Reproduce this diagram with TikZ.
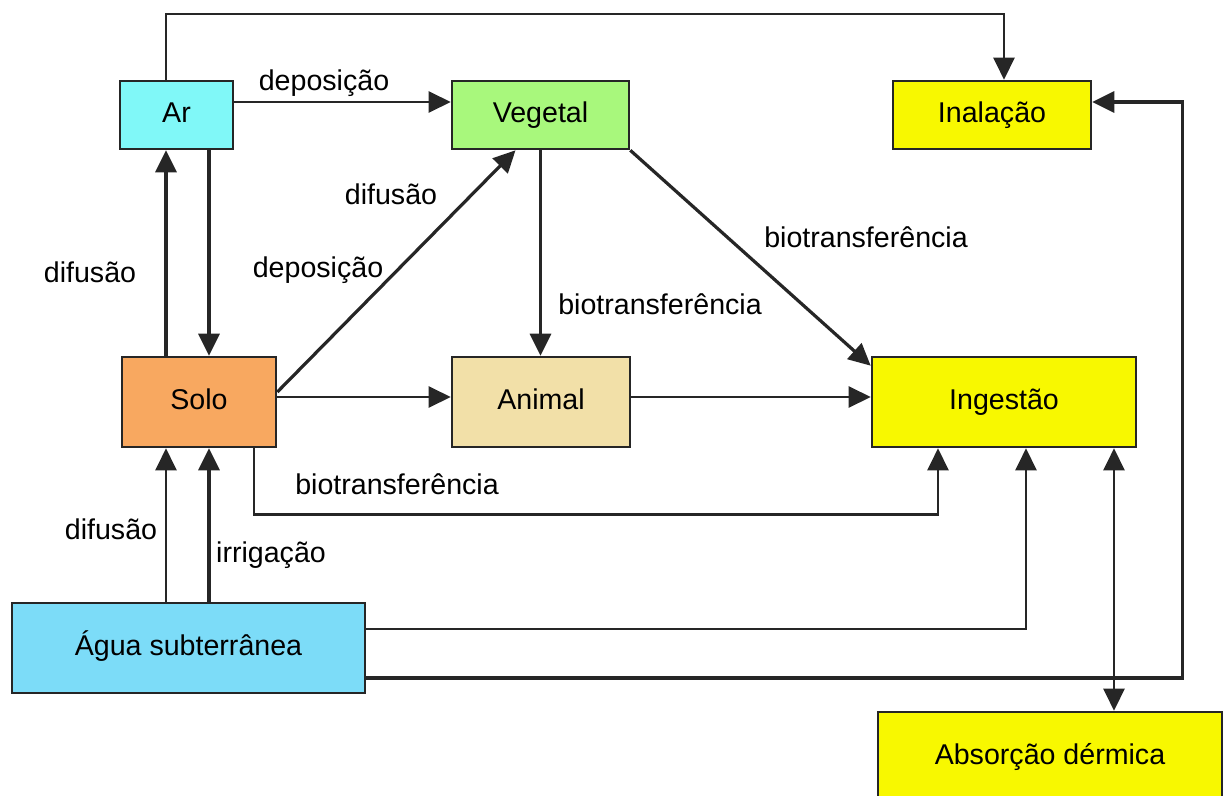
\documentclass[tikz,border=0pt]{standalone}
\usepackage{fontspec}
\setmainfont{Liberation Sans}
\usepackage{tikz}
\usetikzlibrary{arrows.meta,positioning}

\definecolor{arcol}{HTML}{80F8F8}
\definecolor{vegcol}{HTML}{A8F87C}
\definecolor{yelcol}{HTML}{F8F800}
\definecolor{solocol}{HTML}{F8A860}
\definecolor{anicol}{HTML}{F2E0A8}
\definecolor{aguacol}{HTML}{7CDCF8}
\definecolor{linecol}{HTML}{262626}

\begin{document}
\begin{tikzpicture}[
  font=\fontsize{28.6bp}{33bp}\selectfont,
  box/.style={draw=linecol,line width=2.6bp,inner sep=0pt,minimum height=68bp,text height=21bp,text depth=6bp},
  lbl/.style={inner sep=0pt,text height=21bp,text depth=6bp},
  arr/.style={draw=linecol,line width=3.2bp,-{Triangle[length=22bp,width=21bp]}},
  thinarr/.style={draw=linecol,line width=2.4bp,-{Triangle[length=22bp,width=21bp]}},
  dblarr/.style={draw=linecol,line width=2.4bp,{Triangle[length=22bp,width=21bp]}-{Triangle[length=22bp,width=21bp]}}
]
\useasboundingbox[fill=white] (0bp,0bp) rectangle (1230bp,-796bp);

\node (Ar) at (176.5bp,-115bp)[box,fill=arcol,minimum width=113bp] {Ar};
\node (Vegetal) at (540.5bp,-115bp)[box,fill=vegcol,minimum width=177bp] {Vegetal};
\node (Inala) at (992bp,-115bp)[box,fill=yelcol,minimum width=198bp] {Inalação};
\node (Solo) at (199bp,-402bp)[box,fill=solocol,minimum width=154bp,minimum height=90bp] {Solo};
\node (Animal) at (541bp,-402bp)[box,fill=anicol,minimum width=178bp,minimum height=90bp] {Animal};
\node (Ingest) at (1004bp,-402bp)[box,fill=yelcol,minimum width=264bp,minimum height=90bp] {Ingestão};
\node (Agua) at (188.5bp,-648bp)[box,fill=aguacol,minimum width=353bp,minimum height=90bp] {Água subterrânea};
\node (Absorc) at (1050bp,-757bp)[box,fill=yelcol,minimum width=344bp,minimum height=90bp] {Absorção dérmica};

\node (tDepAr) at (324bp,-83bp)[lbl] {deposição};
\node (tDifAr) at (90bp,-275bp)[lbl] {difusão};
\node (tDifVeg) at (391bp,-197bp)[lbl] {difusão};
\node (tDepVeg) at (318bp,-270bp)[lbl] {deposição};
\node (tBioAni) at (660bp,-307bp)[lbl] {biotransferência};
\node (tBioIng) at (866bp,-240bp)[lbl] {biotransferência};
\node (tBioSolo) at (397bp,-487bp)[lbl] {biotransferência};
\node (tDifAgua) at (111bp,-532bp)[lbl] {difusão};
\node (tIrrig) at (271bp,-555bp)[lbl] {irrigação};

\draw [thinarr] ([xshift=-10.5bp]Ar.north) -- ++(0bp,66bp) -| ([xshift=12bp]Inala.north);
\draw [thinarr] ([yshift=13bp]Ar.east) -- ([yshift=13bp]Vegetal.west);
\draw [arr] ([xshift=-33bp]Solo.north) -- ([xshift=-33bp]Solo.north |- Ar.south);
\draw [arr] ([xshift=32.5bp]Ar.south) -- ([xshift=32.5bp]Ar.south |- Solo.north);
\draw [arr] ([yshift=10bp]Solo.east) -- ([xshift=-25bp]Vegetal.south);
\draw [arr] (Vegetal.south) -- (Vegetal.south |- Animal.north);
\draw [arr] (Vegetal.south east) -- ([yshift=-10bp]Ingest.north west);
\draw [thinarr] ([yshift=5bp]Solo.east) -- ([yshift=5bp]Animal.west);
\draw [thinarr] ([yshift=5bp]Animal.east) -- ([yshift=5bp]Ingest.west);
\draw [thinarr] ([xshift=55bp]Solo.south) -- ++(0bp,-66bp) -| ([xshift=-66bp]Ingest.south);
\draw [thinarr] ([xshift=-33bp]Solo.south |- Agua.north) -- ([xshift=-33bp]Solo.south);
\draw [arr] ([xshift=10bp]Solo.south |- Agua.north) -- ([xshift=10bp]Solo.south);
\draw [thinarr] ([yshift=19bp]Agua.east) -| ([xshift=22bp]Ingest.south);
\draw [arr] ([yshift=-30bp]Agua.east) -- ++(816bp,0bp) |- ([yshift=13bp]Inala.east);
\draw [dblarr] ([xshift=110bp]Ingest.south) -- ([xshift=110bp]Ingest.south |- Absorc.north);
\end{tikzpicture}
\end{document}
